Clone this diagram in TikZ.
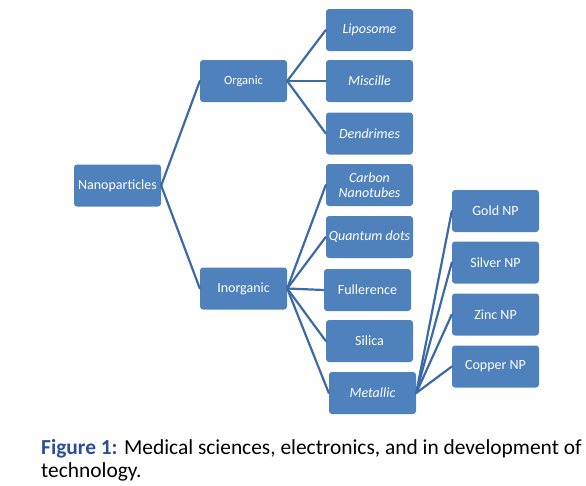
\documentclass[tikz,border=0pt]{standalone}
\usepackage{fontspec}
\setmainfont{Carlito}
\definecolor{boxfill}{HTML}{4F81BD}
\definecolor{linkcol}{HTML}{3C6AA8}
\definecolor{capblue}{HTML}{2B4E9B}
\tikzset{
	npbox/.style={fill=boxfill, rounded corners=3pt, minimum width=87pt, minimum height=42pt, text=white, inner sep=1pt, align=center, font=\fontsize{14}{14.5}\selectfont},
	npit/.style={npbox, font=\fontsize{14}{14.5}\selectfont\itshape},
	link/.style={draw=linkcol, line width=2.2pt}
}
\begin{document}
\begin{tikzpicture}[x=1pt, y=-1pt, line join=round, line cap=round]
	\useasboundingbox (0,0) rectangle (586,485);
	\node[npbox] (nano) at (117.5,185.5) {Nanoparticles};
	\node[npbox, font=\fontsize{12.5}{13}\selectfont] (org) at (243.5,81) {Organic};
	\node[npbox] (inorg) at (243.5,288.5) {Inorganic};
	\node[npit] (lipo) at (369.5,30) {Liposome};
	\node[npit] (misc) at (369.5,81) {Miscille};
	\node[npit] (dend) at (369.5,133.5) {Dendrimes};
	\node[npit] (carb) at (369.5,185) {Carbon\\Nanotubes};
	\node[npit] (quant) at (369.5,237) {Quantum dots};
	\node[npbox] (full) at (367.5,290) {Fullerence};
	\node[npbox] (sil) at (369.5,341) {Silica};
	\node[npit] (metal) at (372.5,393) {Metallic};
	\node[npbox] (gold) at (495.5,211) {Gold NP};
	\node[npbox] (silver) at (495.5,262.5) {Silver NP};
	\node[npbox] (zinc) at (495.5,314.5) {Zinc NP};
	\node[npbox] (copper) at (495.5,366.5) {Copper NP};
	\foreach \b in {org,inorg}\draw[link] (nano.east)--(\b.west);
	\foreach \b in {lipo,misc,dend}\draw[link] (org.east)--(\b.west);
	\foreach \b in {carb,quant,full,sil,metal}\draw[link] (inorg.east)--(\b.west);
	\foreach \b in {gold,silver,zinc,copper}\draw[link] (metal.east)--(\b.west);
	\node[anchor=north west, align=left, inner sep=0pt, font=\fontsize{21.4}{23}\selectfont] (cap) at (41,439) {\textcolor{capblue}{\textbf{Figure 1:}} Medical sciences, electronics, and in development of\\technology.};
\end{tikzpicture}
\end{document}
